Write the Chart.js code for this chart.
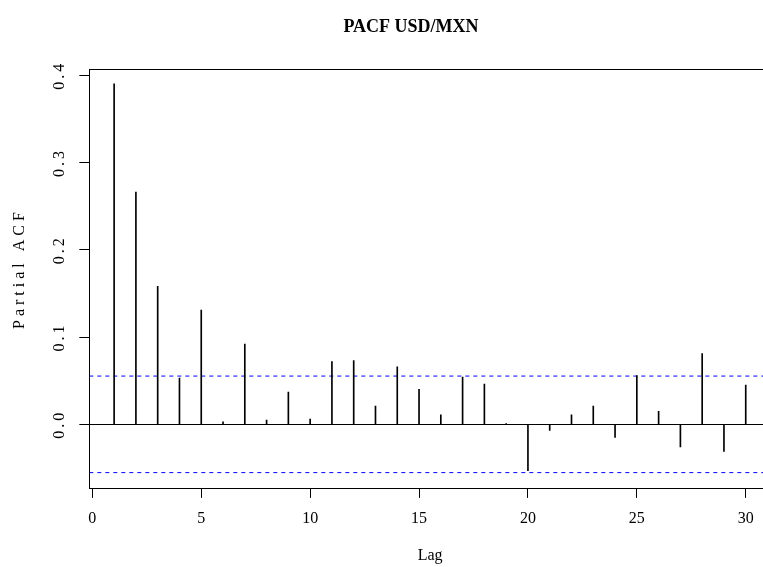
<!DOCTYPE html>
<html>
<head>
<meta charset="utf-8">
<script src="https://cdn.jsdelivr.net/npm/chart.js@4/dist/chart.umd.min.js"></script>
<style>
html,body{margin:0;padding:0;background:#fff;overflow:hidden;width:763px;height:567px}
canvas{display:block}
</style>
</head>
<body>
<canvas id="c" width="771" height="567" style="width:771px;height:567px"></canvas>
<script>
const chartTitle = 'PACF USD/MXN';
const xAxisLabel = 'Lag';
const yAxisLabel = 'Partial ACF';
const lags = [1,2,3,4,5,6,7,8,9,10,11,12,13,14,15,16,17,18,19,20,21,22,23,24,25,26,27,28,29,30];
const pacfValues = [0.390,0.266,0.158,0.053,0.131,0.003,0.092,0.005,0.037,0.006,
                    0.072,0.073,0.021,0.066,0.040,0.011,0.054,0.046,0.001,-0.053,
                    -0.007,0.011,0.021,-0.015,0.056,0.015,-0.026,0.081,-0.031,0.045];
const ciLevel = 0.0553;
const xTickValues = [0,5,10,15,20,25,30];
const yTickValues = [0,0.1,0.2,0.3,0.4];
const xLimits = [-0.14, 31.16];
const yLimits = [-0.0728, 0.4068];

const FONT = "'Liberation Serif', 'Times New Roman', serif";

const framePlugin = {
  id: 'frame',
  afterDraw(chart) {
    const {left, top, right, bottom} = chart.chartArea;
    const ctx = chart.ctx;
    ctx.save();
    ctx.strokeStyle = '#000';
    ctx.lineWidth = 1;
    const l = Math.round(left) + 0.5, t = Math.round(top) + 0.5;
    const r = Math.round(right) + 0.5, b = Math.round(bottom) + 0.5;
    ctx.strokeRect(l, t, r - l, b - t);
    ctx.restore();
  }
};

const titlePlugin = {
  id: 'mainTitle',
  afterDraw(chart) {
    const ctx = chart.ctx;
    ctx.save();
    ctx.font = "bold 18px " + FONT;
    ctx.fillStyle = '#000';
    ctx.textAlign = 'center';
    ctx.textBaseline = 'middle';
    ctx.fillText(chartTitle, 411, 27);
    ctx.restore();
  }
};

const spacingPlugin = {
  id: 'spacing',
  beforeDraw(chart) {
    const s = chart.scales.y;
    if (!s || s._spacingPatched) return;
    s._spacingPatched = true;
    const ctx = chart.ctx;
    const wrap = (name, sp, dy) => {
      const orig = s[name];
      s[name] = function(...args) {
        ctx.save();
        try { ctx.letterSpacing = sp; } catch (e) {}
        if (dy) ctx.translate(0, dy);
        const res = orig.apply(this, args);
        ctx.restore();
        return res;
      };
    };
    wrap('drawLabels', '3px', 0);
    wrap('drawTitle', '4px', -10);
  }
};

new Chart(document.getElementById('c').getContext('2d'), {
  type: 'bar',
  data: {
    datasets: [
      {
        type: 'bar',
        data: lags.map((l, i) => ({x: l, y: pacfValues[i]})),
        backgroundColor: '#000',
        borderWidth: 0,
        barThickness: 1
      },
      {
        type: 'line',
        data: xLimits.map(x => ({x: x, y: ciLevel})),
        borderColor: '#0000ff',
        borderWidth: 1,
        borderDash: [4, 4],
        pointRadius: 0,
        fill: false
      },
      {
        type: 'line',
        data: xLimits.map(x => ({x: x, y: -ciLevel})),
        borderColor: '#0000ff',
        borderWidth: 1,
        borderDash: [4, 4],
        pointRadius: 0,
        fill: false
      }
    ]
  },
  options: {
    responsive: false,
    animation: false,
    devicePixelRatio: 1,
    layout: {padding: {top: 69.2, left: 0, right: 0, bottom: 0}},
    plugins: {legend: {display: false}, tooltip: {enabled: false}, title: {display: false}},
    scales: {
      x: {
        type: 'linear',
        min: xLimits[0],
        max: xLimits[1],
        offset: false,
        afterBuildTicks: s => { s.ticks = xTickValues.map(v => ({value: v})); },
        afterFit: s => { s.height = 79.1; },
        grid: {display: true, drawOnChartArea: false, offset: false, color: '#000', tickColor: '#000', tickLength: 10},
        border: {display: false},
        ticks: {font: {family: FONT, size: 16}, color: '#000', padding: 11.4, maxRotation: 0, autoSkip: false, callback: v => String(v)},
        title: {display: true, text: xAxisLabel, font: {family: FONT, size: 16}, color: '#000', padding: {top: 0, bottom: 1.4}}
      },
      y: {
        type: 'linear',
        min: yLimits[0],
        max: yLimits[1],
        afterBuildTicks: s => { s.ticks = yTickValues.map(v => ({value: v})); },
        afterFit: s => { s.width = 89.3; },
        grid: {
          display: true,
          drawOnChartArea: true,
          color: c => (c.tick && c.tick.value === 0) ? '#000' : 'rgba(0,0,0,0)',
          tickColor: '#000',
          tickLength: 10
        },
        border: {display: false},
        ticks: {font: {family: FONT, size: 16}, color: '#000', padding: 9.3, minRotation: 90, maxRotation: 90, crossAlign: 'center', autoSkip: false, callback: v => Number(v).toFixed(1)},
        title: {display: true, text: yAxisLabel, font: {family: FONT, size: 16}, color: '#000', padding: {top: 10.4, bottom: 0}}
      }
    }
  },
  plugins: [framePlugin, titlePlugin, spacingPlugin]
});
</script>
</body>
</html>
